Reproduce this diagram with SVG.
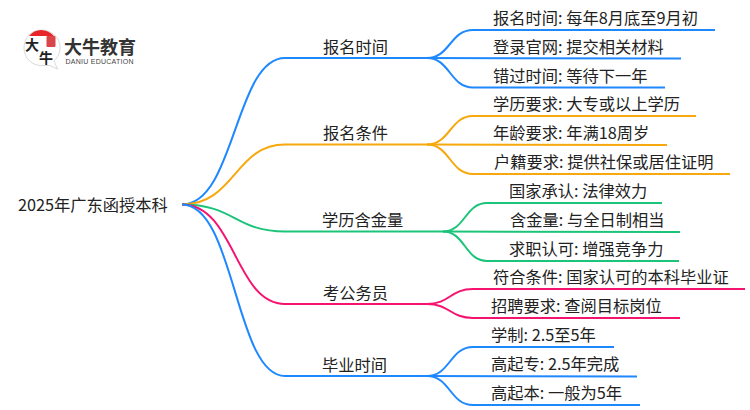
<svg xmlns="http://www.w3.org/2000/svg" width="750" height="410" viewBox="0 0 750 410">
<style>
text{font-family:"Noto Sans CJK SC","Noto Sans",sans-serif;font-size:16.250px;fill:#222}
.c{fill:none;stroke-width:2}
.b{stroke:#1e88ff}.o{stroke:#f7a80c}.g{stroke:#1cc47a}.p{stroke:#f5136f}
</style>
<rect width="750" height="410" fill="#fff"/>
<g id="logo">
<path d="M41 30C31 30 24 38 24 48C24 58 32 66 42 65.500L50 65.500L57.500 69L54 61C58 57 60 53 60 47C60 38 52 30 41 30Z" fill="#fff" stroke="#c9c9c9" stroke-width="0.700"/>
<path d="M29 36C35 28 47 28 54 36Z" fill="#e8262a"/>
<rect x="46.500" y="36" width="9" height="11" rx="1" fill="#d9464a"/>
<text x="25" y="50" style="font-size:14px;font-weight:700;fill:#222">大</text>
<text x="39" y="63" style="font-size:14px;font-weight:700;fill:#222">牛</text>
<text x="64" y="54" style="font-size:18px;font-weight:700;fill:#333">大牛教育</text>
<text x="65.500" y="63.500" style="font-size:7px;fill:#444;font-family:'Liberation Sans',sans-serif" textLength="68">DANIU EDUCATION</text>
</g>
<g id="connectors">
<path class="c b" d="M182 204.500C235 204.500 235 58 285 58L427 58"/>
<path class="c o" d="M182 204.500C235 204.500 235 144.500 285 144.500L427 144.500"/>
<path class="c g" d="M182 204.500C235 204.500 235 231.500 285 231.500L443 231.500"/>
<path class="c p" d="M182 204.500C235 204.500 235 304 285 304L427 304"/>
<path class="c b" d="M182 204.500C235 204.500 235 376 285 376L427 376"/>
<path class="c b" d="M427 58C450 58 450 30 473 30L715 30"/>
<path class="c b" d="M427 58L681 58.500"/>
<path class="c b" d="M427 58C450 58 450 87.500 473 87.500L665 87.500"/>
<path class="c o" d="M427 144.500C450 144.500 450 116 473 116L696 116"/>
<path class="c o" d="M427 144.500L667 145"/>
<path class="c o" d="M427 144.500C450 144.500 450 174 473 174L730 174"/>
<path class="c g" d="M443 231.500C465 231.500 465 203 487 203L662 203"/>
<path class="c g" d="M443 231.500L680 232"/>
<path class="c g" d="M443 231.500C465 231.500 465 261 487 261L679 261"/>
<path class="c p" d="M427 304C450 304 450 289 473 289L745 289"/>
<path class="c p" d="M427 304C450 304 450 318 473 318L680 318"/>
<path class="c b" d="M427 376C450 376 450 347 473 347L614 347"/>
<path class="c b" d="M427 376L637 376.500"/>
<path class="c b" d="M427 376C450 376 450 405 473 405L640 405"/>
</g>
<g id="root"><text x="18" y="211">2025年广东函授本科</text></g>
<g id="n1"><text x="323" y="53">报名时间</text></g>
<g id="n2"><text x="323" y="139">报名条件</text></g>
<g id="n3"><text x="322" y="226">学历含金量</text></g>
<g id="n4"><text x="323" y="299">考公务员</text></g>
<g id="n5"><text x="322" y="371">毕业时间</text></g>
<g id="l1"><text x="493" y="24">报名时间: 每年8月底至9月初</text></g>
<g id="l2"><text x="493" y="53">登录官网: 提交相关材料</text></g>
<g id="l3"><text x="493" y="82">错过时间: 等待下一年</text></g>
<g id="l4"><text x="493" y="110">学历要求: 大专或以上学历</text></g>
<g id="l5"><text x="493" y="139">年龄要求: 年满18周岁</text></g>
<g id="l6"><text x="494" y="168">户籍要求: 提供社保或居住证明</text></g>
<g id="l7"><text x="509" y="197">国家承认: 法律效力</text></g>
<g id="l8"><text x="510" y="226">含金量: 与全日制相当</text></g>
<g id="l9"><text x="509" y="255">求职认可: 增强竞争力</text></g>
<g id="l10"><text x="493" y="283">符合条件: 国家认可的本科毕业证</text></g>
<g id="l11"><text x="491" y="312">招聘要求: 查阅目标岗位</text></g>
<g id="l12"><text x="491" y="341">学制: 2.5至5年</text></g>
<g id="l13"><text x="491" y="370">高起专: 2.5年完成</text></g>
<g id="l14"><text x="491" y="399">高起本: 一般为5年</text></g>
</svg>
